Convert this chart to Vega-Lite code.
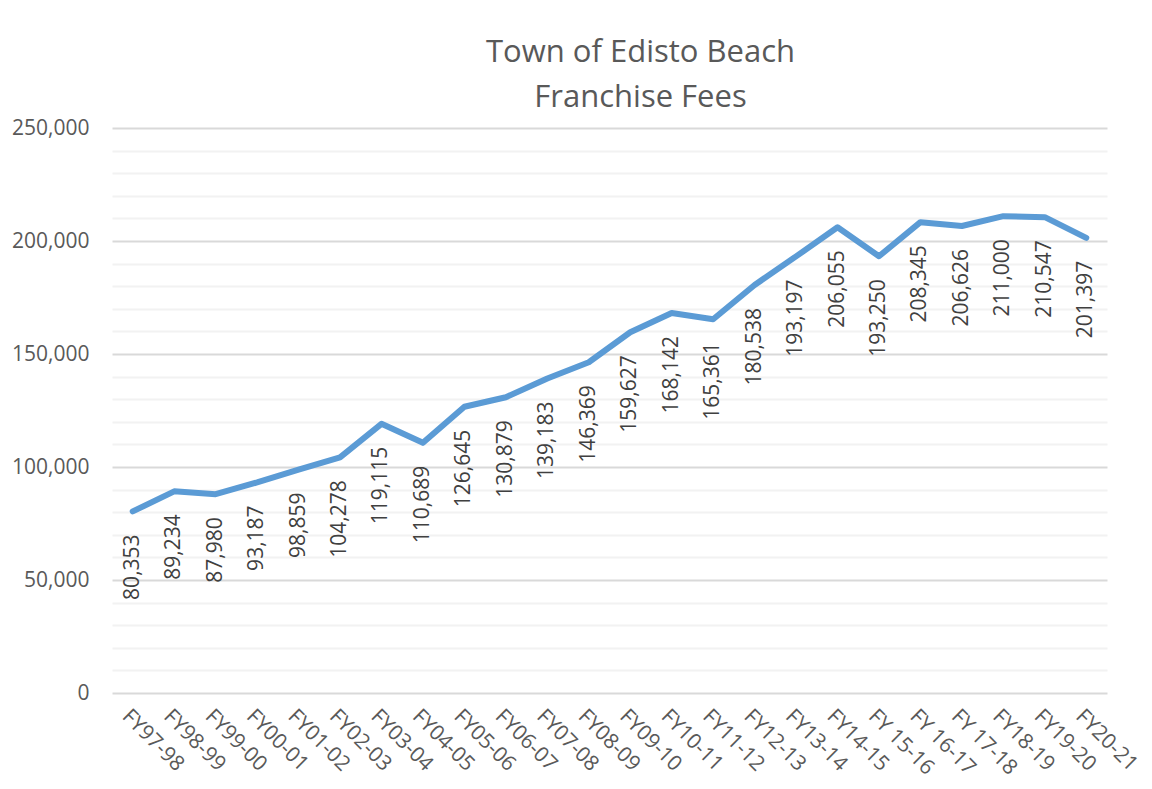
{
  "$schema": "https://vega.github.io/schema/vega-lite/v6.json",
  "autosize": {"type": "none"},
  "width": 995,
  "height": 565,
  "padding": {"left": 112, "top": 128, "right": 45, "bottom": 96},
  "background": "white",
  "config": {
    "view": {"stroke": null},
    "font": "Open Sans"
  },
  "title": {
    "text": ["Town of Edisto Beach", "Franchise Fees"],
    "font": "Open Sans",
    "fontSize": 31,
    "fontWeight": "normal",
    "color": "#595959",
    "lineHeight": 45,
    "anchor": "middle",
    "dx": 31,
    "offset": 3
  },
  "data": {
    "values": [
      {"fy": "FY97-98", "fees": 80353},
      {"fy": "FY98-99", "fees": 89234},
      {"fy": "FY99-00", "fees": 87980},
      {"fy": "FY00-01", "fees": 93187},
      {"fy": "FY01-02", "fees": 98859},
      {"fy": "FY02-03", "fees": 104278},
      {"fy": "FY03-04", "fees": 119115},
      {"fy": "FY04-05", "fees": 110689},
      {"fy": "FY05-06", "fees": 126645},
      {"fy": "FY06-07", "fees": 130879},
      {"fy": "FY07-08", "fees": 139183},
      {"fy": "FY08-09", "fees": 146369},
      {"fy": "FY09-10", "fees": 159627},
      {"fy": "FY10-11", "fees": 168142},
      {"fy": "FY11-12", "fees": 165361},
      {"fy": "FY12-13", "fees": 180538},
      {"fy": "FY13-14", "fees": 193197},
      {"fy": "FY14-15", "fees": 206055},
      {"fy": "FY 15-16", "fees": 193250},
      {"fy": "FY 16-17", "fees": 208345},
      {"fy": "FY 17-18", "fees": 206626},
      {"fy": "FY18-19", "fees": 211000},
      {"fy": "FY19-20", "fees": 210547},
      {"fy": "FY20-21", "fees": 201397}
    ]
  },
  "encoding": {
    "x": {
      "field": "fy",
      "type": "ordinal",
      "sort": null,
      "scale": {"type": "point", "padding": 0.5},
      "axis": {
        "title": null,
        "labelAngle": 45,
        "labelAlign": "left",
        "labelBaseline": "top",
        "labelFont": "Open Sans",
        "labelFontSize": 21,
        "labelColor": "#595959",
        "labelPadding": 12,
        "labelOverlap": false,
        "ticks": false,
        "domain": false,
        "grid": false
      }
    },
    "y": {
      "field": "fees",
      "type": "quantitative",
      "scale": {"domain": [0, 250000], "nice": false, "zero": true},
      "axis": {
        "title": null,
        "values": [0, 10000, 20000, 30000, 40000, 50000, 60000, 70000, 80000, 90000, 100000, 110000, 120000, 130000, 140000, 150000, 160000, 170000, 180000, 190000, 200000, 210000, 220000, 230000, 240000, 250000],
        "format": ",d",
        "labelExpr": "datum.value % 50000 === 0 ? datum.label : ''",
        "labelFont": "Open Sans",
        "labelFontSize": 21,
        "labelColor": "#595959",
        "labelPadding": 23,
        "ticks": false,
        "domain": false,
        "grid": true,
        "gridColor": {"condition": {"test": "datum.value % 50000 === 0", "value": "#d9d9d9"}, "value": "#f2f2f2"},
        "gridWidth": 1.8
      }
    }
  },
  "layer": [
    {
      "mark": {"type": "line", "color": "#5b9bd5", "strokeWidth": 6, "strokeCap": "round", "strokeJoin": "round"}
    },
    {
      "mark": {"type": "text", "angle": 270, "align": "right", "baseline": "middle", "dx": -23, "font": "Open Sans", "fontSize": 21, "color": "#404040"},
      "encoding": {
        "text": {"field": "fees", "type": "quantitative", "format": ",d"}
      }
    }
  ]
}
